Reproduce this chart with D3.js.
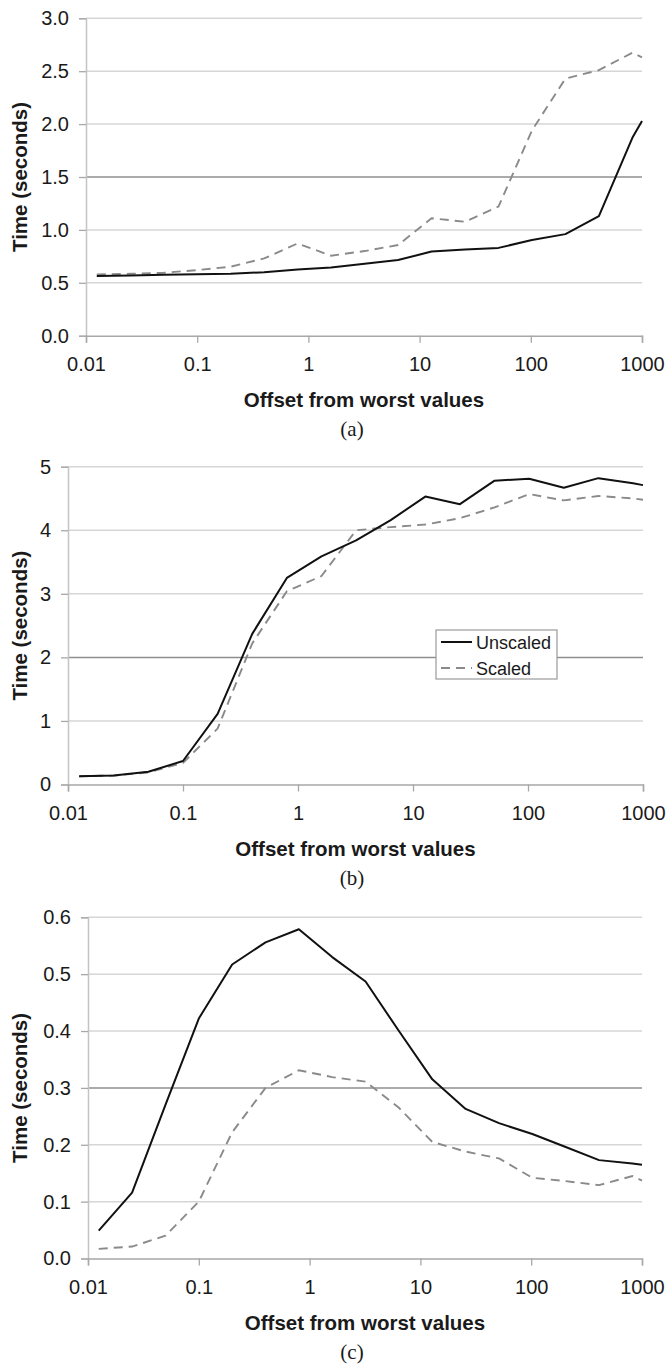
<!DOCTYPE html>
<html>
<head>
<meta charset="utf-8">
<script src="https://cdn.jsdelivr.net/npm/d3@7"></script>
<style>
  html, body { margin: 0; padding: 0; background: #fff; }
  svg { display: block; }
  text { font-family: "Liberation Sans", Arial, sans-serif; fill: #1a1a1a; }
</style>
</head>
<body>
<svg id="chart" width="670" height="1365"></svg>
<script>
// Offsets from the worst values (shared by all three runs)
const offsets = [0.0125, 0.025, 0.05, 0.1, 0.2, 0.4, 0.8, 1.6, 3.2, 6.4, 12.8, 25.6, 51.2, 102.4, 204.8, 409.6, 819.2, 1000];

// (a)
const aUnscaled = [0.565, 0.57, 0.575, 0.58, 0.585, 0.60, 0.625, 0.645, 0.68, 0.715, 0.795, 0.815, 0.83, 0.905, 0.96, 1.13, 1.87, 2.03];
const aScaled   = [0.58, 0.585, 0.595, 0.62, 0.652, 0.73, 0.872, 0.756, 0.80, 0.857, 1.11, 1.077, 1.22, 1.94, 2.43, 2.51, 2.675, 2.63];
// (b)
const bUnscaled = [0.13, 0.14, 0.20, 0.37, 1.11, 2.37, 3.25, 3.59, 3.84, 4.16, 4.53, 4.41, 4.78, 4.81, 4.67, 4.82, 4.74, 4.71];
const bScaled   = [0.13, 0.14, 0.19, 0.34, 0.88, 2.22, 3.04, 3.28, 4.00, 4.05, 4.09, 4.19, 4.36, 4.57, 4.47, 4.54, 4.50, 4.48];
// (c)
const cUnscaled = [0.049, 0.116, 0.27, 0.422, 0.517, 0.556, 0.579, 0.53, 0.487, 0.40, 0.315, 0.263, 0.238, 0.219, 0.196, 0.173, 0.167, 0.165];
const cScaled   = [0.017, 0.021, 0.04, 0.10, 0.222, 0.30, 0.331, 0.319, 0.311, 0.265, 0.205, 0.188, 0.176, 0.142, 0.136, 0.129, 0.145, 0.137];

// Axis ticks and labels
const xTicks = [0.01, 0.1, 1, 10, 100, 1000];
const xTickLabels = ["0.01", "0.1", "1", "10", "100", "1000"];
const aYTicks = [0, 0.5, 1.0, 1.5, 2.0, 2.5, 3.0];
const aYTickLabels = ["0.0", "0.5", "1.0", "1.5", "2.0", "2.5", "3.0"];
const bYTicks = [0, 1, 2, 3, 4, 5];
const bYTickLabels = ["0", "1", "2", "3", "4", "5"];
const cYTicks = [0, 0.1, 0.2, 0.3, 0.4, 0.5, 0.6];
const cYTickLabels = ["0.0", "0.1", "0.2", "0.3", "0.4", "0.5", "0.6"];

const seriesNames = ["Unscaled", "Scaled"];
const xTitle = "Offset from worst values";
const yTitle = "Time (seconds)";

const svg = d3.select("#chart");

const panels = [
  { caption: "(a)", unscaled: aUnscaled, scaled: aScaled, yTicks: aYTicks, yLabels: aYTickLabels,
    yMax: 3.0, left: 86, right: 642, top: 18.3, bottom: 335.7, darkGrid: 1.5, legend: false },
  { caption: "(b)", unscaled: bUnscaled, scaled: bScaled, yTicks: bYTicks, yLabels: bYTickLabels,
    yMax: 5, left: 68, right: 643, top: 466.7, bottom: 784.5, darkGrid: 2, legend: true },
  { caption: "(c)", unscaled: cUnscaled, scaled: cScaled, yTicks: cYTicks, yLabels: cYTickLabels,
    yMax: 0.6, left: 88, right: 642, top: 917.3, bottom: 1258.5, darkGrid: 0.3, legend: false }
];

panels.forEach(p => {
  const x = d3.scaleLog().domain([0.01, 1000]).range([p.left, p.right]);
  const y = d3.scaleLinear().domain([0, p.yMax]).range([p.bottom, p.top]);
  const g = svg.append("g");

  // horizontal gridlines
  g.append("g").selectAll("line")
    .data(p.yTicks.filter(v => v > 0))
    .join("line")
    .attr("x1", p.left).attr("x2", p.right)
    .attr("y1", d => y(d)).attr("y2", d => y(d))
    .attr("stroke", d => Math.abs(d - p.darkGrid) < 1e-9 ? "#8f8f8f" : "#d6d6d6")
    .attr("stroke-width", 1.5);

  // y axis
  const yAxis = d3.axisLeft(y).tickValues(p.yTicks)
    .tickFormat((d, i) => p.yLabels[i]).tickSize(7).tickPadding(10);
  const ya = g.append("g").attr("transform", `translate(${p.left},0)`).call(yAxis);
  ya.select(".domain").attr("stroke", "#c4c4c4").attr("stroke-width", 1.5);
  ya.selectAll(".tick line").attr("stroke", "#a8a8a8").attr("stroke-width", 1.3);
  ya.selectAll(".tick text").attr("font-size", 20).attr("fill", "#1a1a1a")
    .attr("font-family", "Liberation Sans, Arial, sans-serif");

  // x axis
  const xAxis = d3.axisBottom(x).tickValues(xTicks)
    .tickFormat((d, i) => xTickLabels[i]).tickSize(7).tickPadding(14);
  const xa = g.append("g").attr("transform", `translate(0,${p.bottom})`).call(xAxis);
  xa.select(".domain").attr("stroke", "#a8a8a8").attr("stroke-width", 1.5);
  xa.selectAll(".tick line").attr("stroke", "#a8a8a8").attr("stroke-width", 1.3);
  xa.selectAll(".tick text").attr("font-size", 20).attr("fill", "#1a1a1a")
    .attr("font-family", "Liberation Sans, Arial, sans-serif");

  // series lines
  const line = d3.line().x((d, i) => x(offsets[i])).y(d => y(d));
  g.append("path").datum(p.scaled)
    .attr("d", line).attr("fill", "none")
    .attr("stroke", "#8a8a8a").attr("stroke-width", 1.9)
    .attr("stroke-dasharray", "9,6");
  g.append("path").datum(p.unscaled)
    .attr("d", line).attr("fill", "none")
    .attr("stroke", "#111").attr("stroke-width", 2)
    .attr("stroke-linejoin", "round");

  // axis titles
  g.append("text")
    .attr("x", (p.left + p.right) / 2).attr("y", p.bottom + 71)
    .attr("text-anchor", "middle").attr("font-size", 20.5).attr("font-weight", "bold")
    .text(xTitle);
  g.append("text")
    .attr("transform", `translate(27,${(p.top + p.bottom) / 2}) rotate(-90)`)
    .attr("text-anchor", "middle").attr("font-size", 20.5).attr("font-weight", "bold")
    .text(yTitle);

  // caption
  g.append("text")
    .attr("x", 352).attr("y", p.bottom + 100.5)
    .attr("text-anchor", "middle").attr("font-size", 21)
    .style("font-family", "'Liberation Serif', 'Times New Roman', serif")
    .text(p.caption);

  // legend
  if (p.legend) {
    const lg = g.append("g").attr("transform", "translate(436,630)");
    lg.append("rect").attr("width", 121).attr("height", 49)
      .attr("fill", "#fff").attr("stroke", "#9a9a9a").attr("stroke-width", 1.2);
    const rows = [
      { name: seriesNames[0], color: "#111", dash: null, w: 2 },
      { name: seriesNames[1], color: "#8a8a8a", dash: "9,6", w: 1.9 }
    ];
    rows.forEach((r, i) => {
      const cy = 12 + i * 26;
      lg.append("line").attr("x1", 5).attr("x2", 36).attr("y1", cy).attr("y2", cy)
        .attr("stroke", r.color).attr("stroke-width", r.w)
        .attr("stroke-dasharray", r.dash);
      lg.append("text").attr("x", 40).attr("y", cy + 6.5)
        .attr("font-size", 18).text(r.name);
    });
  }
});
</script>
</body>
</html>
